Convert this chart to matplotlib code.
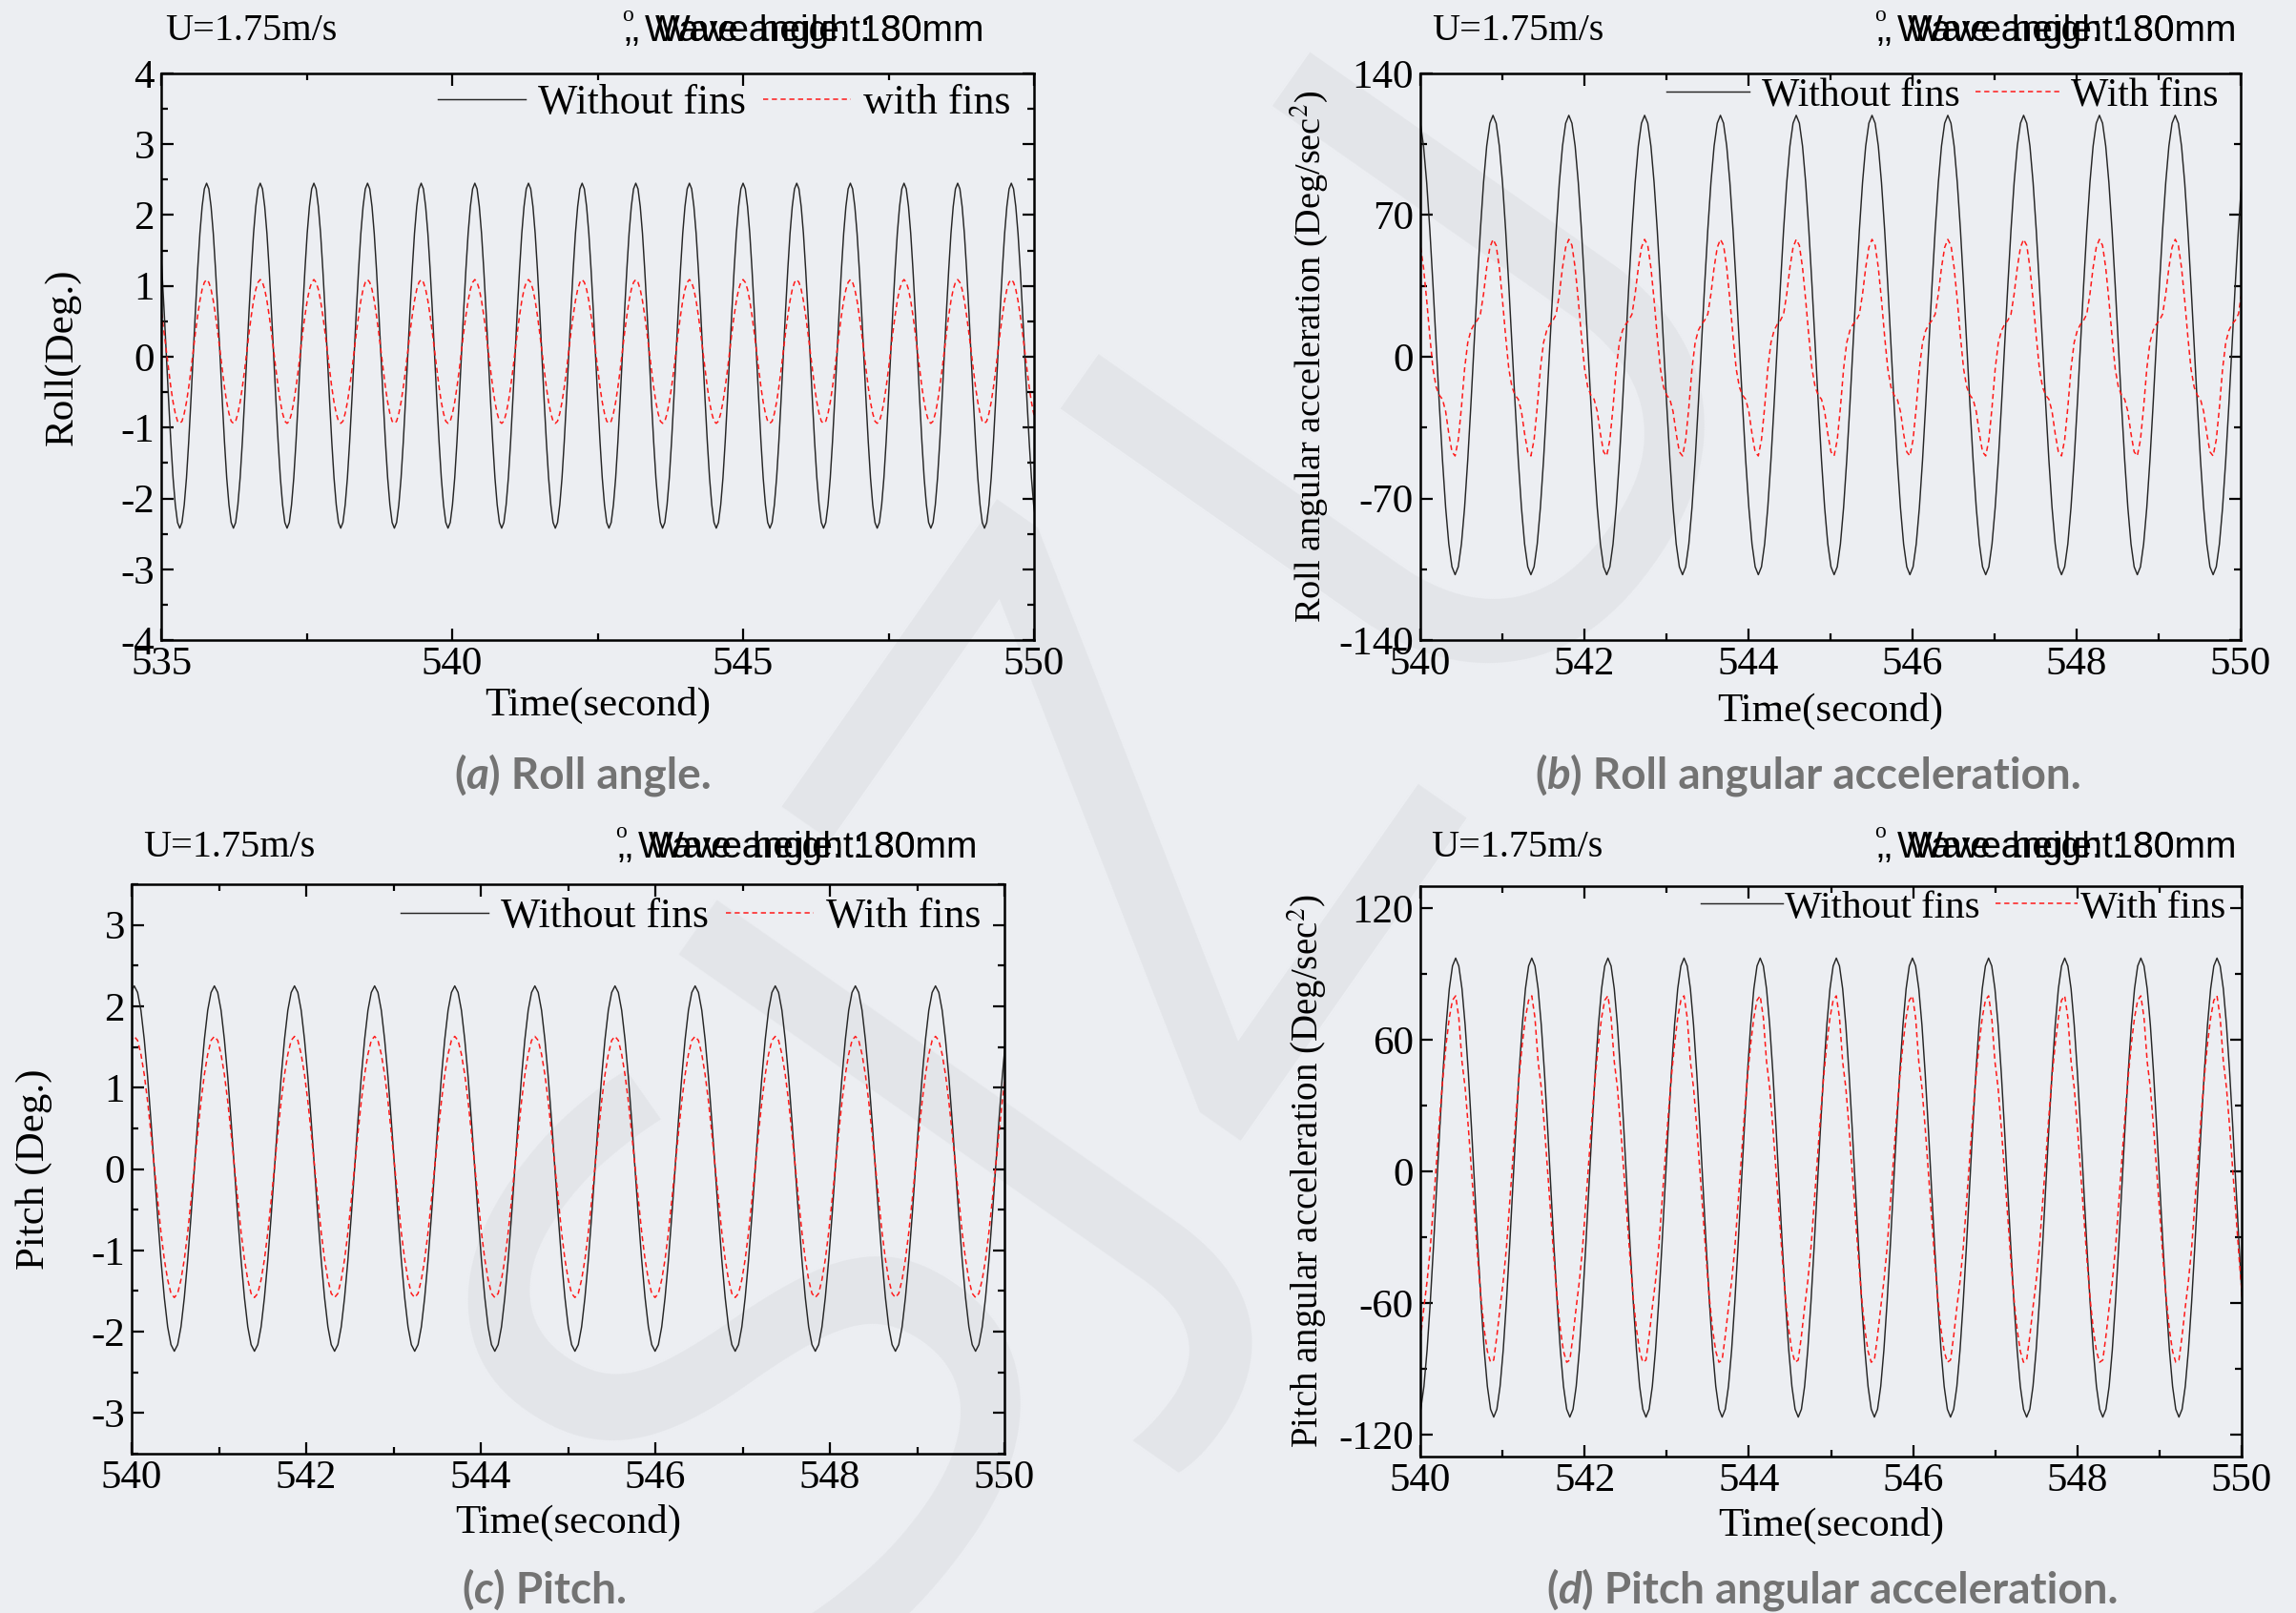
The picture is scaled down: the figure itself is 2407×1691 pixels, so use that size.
import numpy as np
import matplotlib
matplotlib.use("Agg")
import matplotlib.pyplot as plt
from matplotlib.ticker import MultipleLocator, FormatStrFormatter
from matplotlib.transforms import offset_copy
from matplotlib.text import Annotation

# ---------------- data (one steady-state cycle, 15 deg steps from black peak) ----
# (a) Roll angle (deg), 535-550 s
roll_period = 0.922
roll_first_peak = 534.858
roll_without = [2.45, 2.37, 2.12, 1.74, 1.23, 0.65, 0.02, -0.61, -1.20, -1.71, -2.09, -2.34,
                -2.42, -2.34, -2.09, -1.71, -1.20, -0.61, 0.02, 0.65, 1.23, 1.74, 2.12, 2.37]
roll_with = [1.09, 1.05, 0.95, 0.79, 0.58, 0.34, 0.08, -0.19, -0.43, -0.64, -0.80, -0.91,
             -0.94, -0.91, -0.80, -0.64, -0.43, -0.19, 0.08, 0.34, 0.58, 0.79, 0.95, 1.05]

# (b) Roll angular acceleration (deg/s^2), 540-550 s
racc_period = 0.924
racc_first_peak = 539.962
racc_without = [119.3, 115.4, 104.1, 86.1, 62.6, 35.2, 5.8, -23.6, -51.0, -74.5, -92.5, -103.8,
                -107.7, -103.8, -92.5, -74.5, -51.0, -23.6, 5.8, 35.2, 62.6, 86.1, 104.1, 115.4]
racc_with = [58, 55, 44, 28, 10, -6, -15, -19, -21, -27, -38, -47,
             -49, -41, -25, -6, 7, 13, 16, 18, 21, 31, 44, 54]

# (c) Pitch (deg), 540-550 s
pitch_period = 0.918
pitch_first_peak = 539.112
pitch_without = [2.25, 2.17, 1.95, 1.59, 1.13, 0.59, 0.01, -0.58, -1.12, -1.58, -1.94, -2.16,
                 -2.24, -2.16, -1.94, -1.58, -1.12, -0.58, 0.01, 0.59, 1.13, 1.59, 1.95, 2.17]
pitch_with = [1.63, 1.58, 1.41, 1.16, 0.83, 0.44, 0.03, -0.39, -0.78, -1.11, -1.36, -1.53,
              -1.58, -1.53, -1.36, -1.11, -0.78, -0.39, 0.03, 0.44, 0.83, 1.16, 1.41, 1.58]

# (d) Pitch angular acceleration (deg/s^2), 540-550 s
pacc_period = 0.927
pacc_first_peak = 539.503
pacc_without = [97.2, 93.6, 83.2, 66.6, 44.9, 19.7, -7.4, -34.5, -59.7, -81.4, -98.0, -108.4,
                -112.0, -108.4, -98.0, -81.4, -59.7, -34.5, -7.4, 19.7, 44.9, 66.6, 83.2, 93.6]
pacc_with = [80, 70, 50, 38, 20, 0, -20, -40, -58, -72, -82, -87,
             -86, -75, -62, -50, -35, -15, 5, 25, 43, 58, 70, 78]

legend_labels_a = ["Without fins", "with fins"]
legend_labels = ["Without fins", "With fins"]
speed_text = "U=1.75m/s"
xlabel = "Time(second)"
ylabels = ["Roll(Deg.)", "Roll angular acceleration (Deg/sec$^{2}$)",
           "Pitch (Deg.)", "Pitch angular acceleration (Deg/sec$^{2}$)"]
captions = [("(", "a", ") Roll angle."), ("(", "b", ") Roll angular acceleration."),
            ("(", "c", ") Pitch."), ("(", "d", ") Pitch angular acceleration.")]


def steady_series(first_peak, period, profile, n_cycles):
    prof = np.asarray(profile, dtype=float)
    y = np.append(np.tile(prof, n_cycles), prof[0])
    t = first_peak + np.arange(y.size) * period / len(prof)
    return t, y


# ---------------- figure ----------------
W, H = 2407, 1691
BG = "#eceef2"
plt.rcParams["axes.unicode_minus"] = False
plt.rcParams["mathtext.fontset"] = "stix"
SERIF = ["Liberation Serif", "DejaVu Serif"]
fig = plt.figure(figsize=(W / 100, H / 100), dpi=100, facecolor=BG)

# faint watermark behind everything
fig.text(0.50, 0.47, "SJZU", rotation=55, fontsize=600, color="#e3e5e9",
         ha="center", va="center", family=["Open Sans", "DejaVu Sans"], zorder=-5)


def fx(px):
    return px / W


def fy(py):
    return 1 - py / H


panels = [
    dict(rect=(169, 77, 1084, 671), data=(roll_first_peak, roll_period, roll_without, roll_with, 18),
         xlim=(535, 550), xmaj=5, xmin=2.5, ylim=(-4, 4), ymaj=1, ymin=0.5, yfs=31,
         labels=legend_labels_a, leg=(0.973, 0.948), lfs=31.5, htp=0.3, ylc=-0.092, xlc=-0.083),
    dict(rect=(1489, 77, 2349, 671), data=(racc_first_peak, racc_period, racc_without, racc_with, 12),
         xlim=(540, 550), xmaj=2, xmin=1, ylim=(-140, 140), ymaj=70, ymin=35, yfs=27.5,
         labels=legend_labels, leg=(0.973, 0.961), lfs=30, htp=0.3, ylc=-0.111, xlc=-0.093),
    dict(rect=(138, 927, 1053, 1524), data=(pitch_first_peak, pitch_period, pitch_without, pitch_with, 13),
         xlim=(540, 550), xmaj=2, xmin=1, ylim=(-3.5, 3.5), ymaj=1, ymin=0.5, yfs=31,
         labels=legend_labels, leg=(0.973, 0.943), lfs=31.5, htp=0.3, ylc=-0.091, xlc=-0.089),
    dict(rect=(1489, 929, 2350, 1527), data=(pacc_first_peak, pacc_period, pacc_without, pacc_with, 13),
         xlim=(540, 550), xmaj=2, xmin=1, ylim=(-130, 130), ymaj=60, ymin=30, yfs=28,
         labels=legend_labels, leg=(0.980, 0.962), lfs=29.5, htp=0.05, ylc=-0.111, xlc=-0.088),
]

FS = 31
for i, p in enumerate(panels):
    l, t, r, b = p["rect"]
    ax = fig.add_axes([fx(l), fy(b), (r - l) / W, (b - t) / H])
    ax.set_facecolor("none")
    fp, per, yb, yr, nc = p["data"]
    tb, vb = steady_series(fp, per, yb, nc)
    tr, vr = steady_series(fp, per, yr, nc)
    ax.plot(tb, vb, color="#262626", lw=1.05, label=p["labels"][0])
    ax.plot(tr, vr, color="#ff1a1a", lw=1.1, linestyle=(0, (3.5, 2.5)), label=p["labels"][1])
    ax.set_xlim(*p["xlim"])
    ax.set_ylim(*p["ylim"])
    ax.xaxis.set_major_locator(MultipleLocator(p["xmaj"]))
    ax.xaxis.set_minor_locator(MultipleLocator(p["xmin"]))
    ax.yaxis.set_major_locator(MultipleLocator(p["ymaj"]))
    ax.yaxis.set_minor_locator(MultipleLocator(p["ymin"]))
    ax.xaxis.set_major_formatter(FormatStrFormatter("%d"))
    ax.yaxis.set_major_formatter(FormatStrFormatter("%d"))
    ax.tick_params(which="both", direction="in", top=True, right=True, width=1.6)
    ax.tick_params(which="major", length=9, labelsize=FS, pad=5)
    ax.tick_params(which="minor", length=5)
    for lab in ax.get_xticklabels() + ax.get_yticklabels():
        lab.set_family(SERIF)
    for s in ax.spines.values():
        s.set_linewidth(1.8)
    ax.set_xlabel(xlabel, fontsize=FS, family=SERIF)
    ax.xaxis.set_label_coords(0.5, p["xlc"])
    ax.set_ylabel(ylabels[i], fontsize=p["yfs"], family=SERIF)
    ax.yaxis.set_label_coords(p["ylc"], 0.5)
    ax.legend(loc="center right", bbox_to_anchor=p["leg"], ncol=2, frameon=False,
              prop=dict(family=SERIF, size=p["lfs"]), handlelength=2.1, handletextpad=p["htp"],
              columnspacing=0.4, borderpad=0, borderaxespad=0)

# header texts
sans = ["Liberation Sans Narrow", "Liberation Sans"]
for (ux, uy, ox) in [(173, 33, 652), (1501, 33, 1965), (150, 889, 645), (1500, 889, 1965)]:
    fig.text(fx(ux), fy(uy), speed_text, fontsize=29, family=SERIF, ha="left", va="center")
    base = fig.transFigure
    fig.text(fx(ox), fy(uy), "o", fontsize=17, family=SERIF, ha="left", va="center",
             transform=offset_copy(base, fig, x=0, y=16, units="dots"))
    fig.text(fx(ox), fy(uy), ",", fontsize=28, family=sans, ha="left", va="center")
    fig.text(fx(ox), fy(uy), ",", fontsize=28, family=sans, ha="left", va="center",
             transform=offset_copy(base, fig, x=8, y=0, units="dots"))
    fig.text(fx(ox), fy(uy), "Wave angle: 180", fontsize=28, family=sans, ha="left", va="center",
             transform=offset_copy(base, fig, x=24, y=0, units="dots"))
    fig.text(fx(ox), fy(uy), "Wave height: 30mm", fontsize=28, family=sans, ha="left", va="center",
             transform=offset_copy(base, fig, x=35, y=0, units="dots"))

# captions
CAP = dict(fontsize=33, color="#737373", family=["Lato", "Open Sans", "DejaVu Sans"], weight="bold")
for (cx, cy), (p1, p2, p3) in zip([(476, 827), (1609, 827), (484, 1681), (1621, 1681)], captions):
    t1 = fig.text(fx(cx), fy(cy), p1, ha="left", va="baseline", **CAP)
    a2 = fig.add_artist(Annotation(p2, xy=(1, 0), xycoords=t1, va="bottom", ha="left",
                                   style="italic", **CAP))
    fig.add_artist(Annotation(p3, xy=(1, 0), xycoords=a2, va="bottom", ha="left", **CAP))

fig.savefig("out.png", dpi=100, facecolor=BG)
